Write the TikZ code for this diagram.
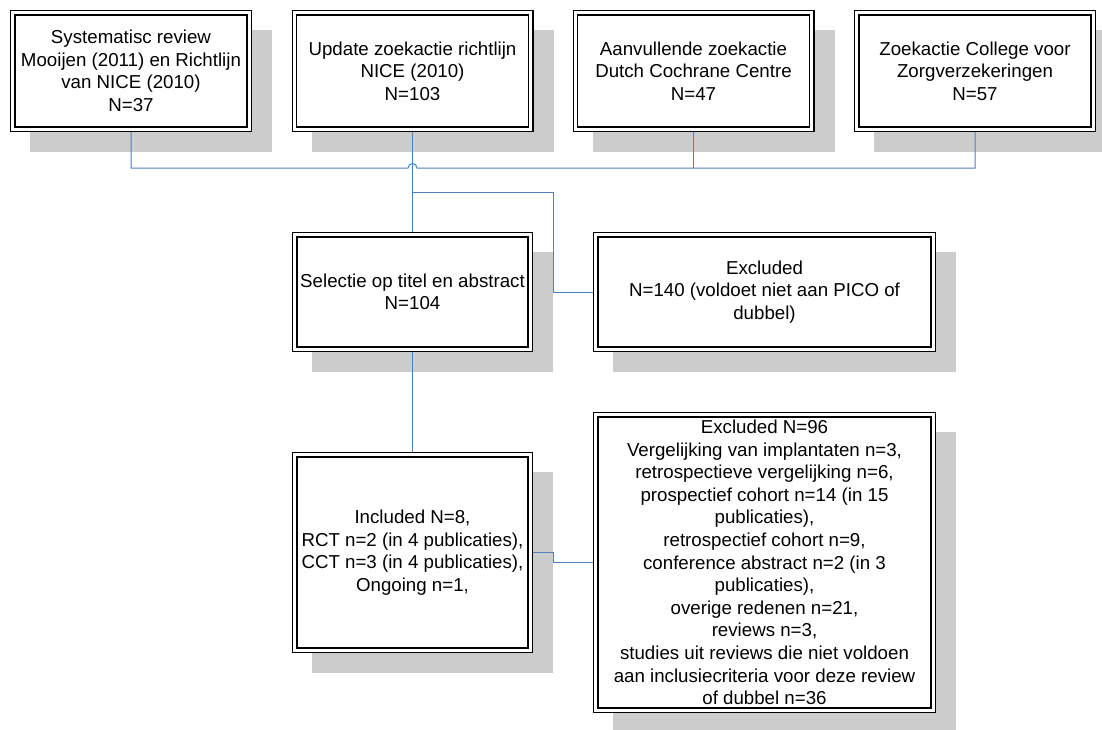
\documentclass[tikz,border=0pt]{standalone}
\usepackage{fontspec}
\setmainfont{Liberation Sans}
\usetikzlibrary{shadows}
\definecolor{linkblue}{RGB}{79,129,189}
\definecolor{shadegray}{RGB}{204,204,204}

\tikzset{
  flowbox/.style={draw, double, line width=1.3pt, double distance=3pt, fill=white, inner sep=0pt, outer sep=2.8pt, align=center,
    font=\fontsize{18.7}{22.6}\selectfont,
    drop shadow={shadow xshift=20pt, shadow yshift=-20pt, fill=shadegray, draw=shadegray, line width=5.6pt, opacity=1}},
  topbox/.style={flowbox, minimum width=236.4pt, minimum height=116.4pt},
  link/.style={draw=linkblue, line width=1pt}
}

\begin{document}
\begin{tikzpicture}[x=1pt,y=-1pt]
\fill[white] (0,0) rectangle (1102,729);
\useasboundingbox (0,0) rectangle (1102,729);

% sources
\node[topbox] (sysrev) at (131,71) {Systematisc review\\Mooijen (2011) en Richtlijn\\van NICE (2010)\\N=37};
\node[topbox] (update) at (412.5,71) {Update zoekactie richtlijn\\NICE (2010)\\N=103};
\node[topbox] (dcc) at (693.5,71) {Aanvullende zoekactie\\Dutch Cochrane Centre\\N=47};
\node[topbox] (cvz) at (975,71) {Zoekactie College voor\\Zorgverzekeringen\\N=57};

% selection
\node[flowbox, minimum width=235.4pt, minimum height=114.4pt] (selectie) at (412.5,292) {Selectie op titel en abstract\\N=104};
\node[flowbox, minimum width=337.4pt, minimum height=114.4pt] (excl1) at (764.5,292) {Excluded\\N=140 (voldoet niet aan PICO of\\dubbel)};
\node[flowbox, minimum width=235.4pt, minimum height=195.4pt] (incl) at (412.5,552.5) {Included N=8,\\RCT n=2 (in 4 publicaties),\\CCT n=3 (in 4 publicaties),\\Ongoing n=1,};
\node[flowbox, minimum width=337.4pt, minimum height=295.4pt] (excl2) at (764.5,562.5) {Excluded N=96\\Vergelijking van implantaten n=3,\\retrospectieve vergelijking n=6,\\prospectief cohort n=14 (in 15\\publicaties),\\retrospectief cohort n=9,\\conference abstract n=2 (in 3\\publicaties),\\overige redenen n=21,\\reviews n=3,\\studies uit reviews die niet voldoen\\aan inclusiecriteria voor deze review\\of dubbel n=36};

% connectors
\coordinate (hop) at (412.5,168);
\coordinate (split) at (412.5,192);
\draw[link] (sysrev.south) |- ([xshift=-4.5pt]hop) arc[start angle=180, end angle=0, radius=4.5pt] -| (cvz.south);
\draw[link] (dcc.south) -- (dcc.south |- hop);
\draw[link] (update.south) -- (selectie.north);
\draw[link] (split) -| ([xshift=-40pt]excl1.west) -- (excl1.west);
\draw[link] (selectie.south) -- (incl.north);
\draw[link] (incl.east) -- ++(20pt,0) |- (excl2.west);

\end{tikzpicture}
\end{document}
